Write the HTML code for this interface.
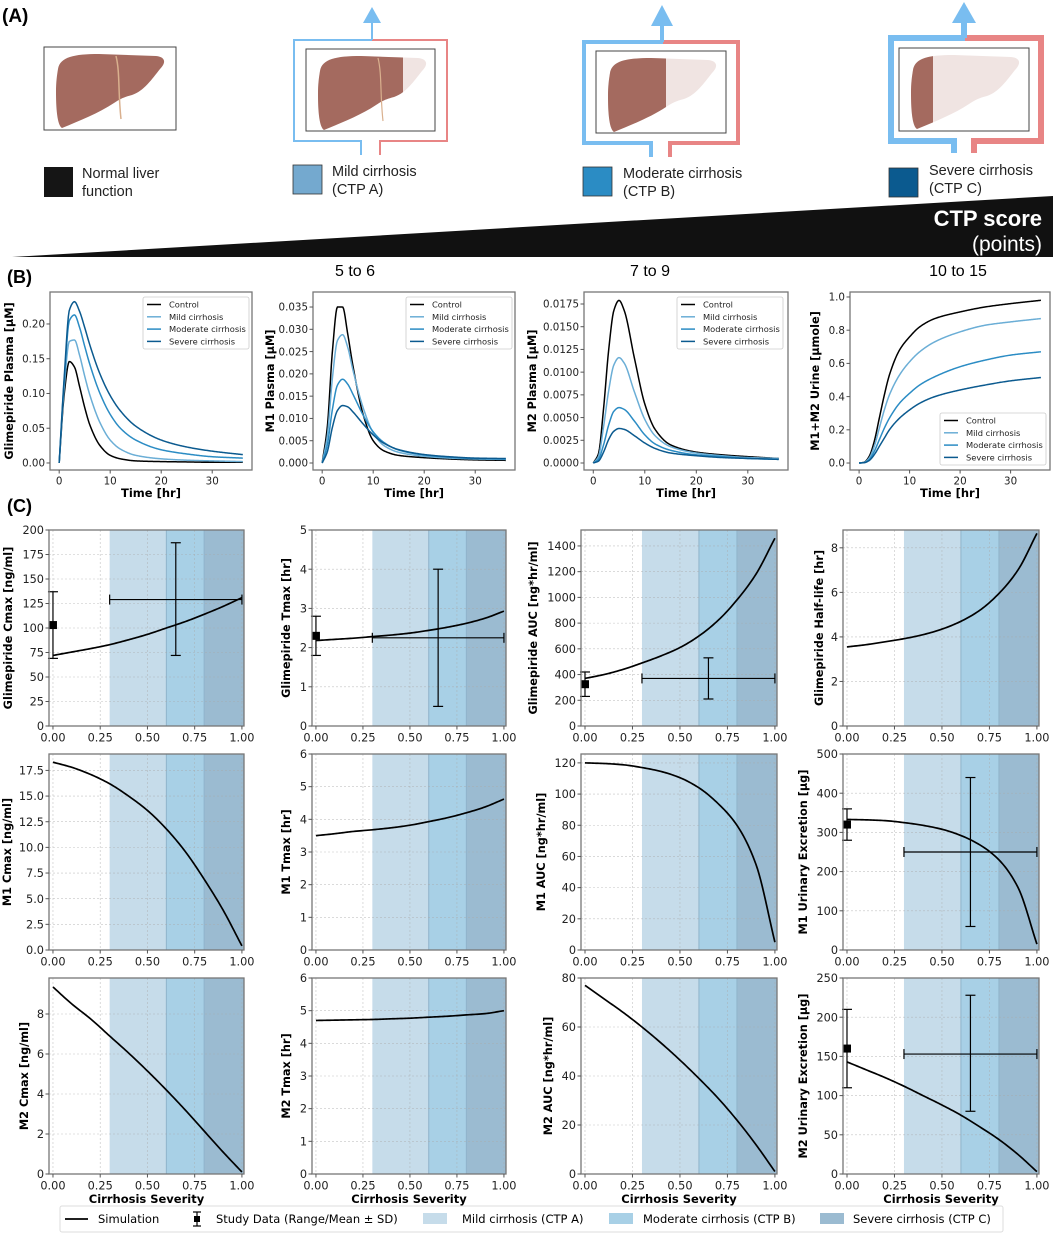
<!DOCTYPE html>
<html><head><meta charset="utf-8"><title>Glimepiride cirrhosis figure</title>
<style>
html,body{margin:0;padding:0;background:#fff;}
svg{display:block;font-family:"DejaVu Sans","Liberation Sans",sans-serif;}
.ra{font-family:"Liberation Sans",sans-serif;}
</style></head>
<body>
<svg id="fig" width="1059" height="1233" viewBox="0 0 1059 1233" xmlns="http://www.w3.org/2000/svg">
<defs>
 <path id="liverShape" d="M14,22 C16,10 30,7 55,7 L112,9 C122,10 122,16 116,22 C108,32 100,44 88,48 C80,50 76,52 70,56 C55,66 35,74 18,81 C13,78 12,60 12,45 C12,35 13,28 14,22 Z"/>
 <clipPath id="c1"><rect x="0" y="0" width="200" height="100"/></clipPath>
 <clipPath id="c2"><rect x="0" y="0" width="97" height="100"/></clipPath>
 <clipPath id="c3"><rect x="0" y="0" width="70" height="100"/></clipPath>
 <clipPath id="c4"><rect x="0" y="0" width="34" height="100"/></clipPath>
</defs>
<text x="2" y="22" font-size="19" font-weight="bold" class="ra">(A)</text>

<g transform="translate(44,47)">
 <rect x="0" y="0" width="132" height="83" fill="#fff" stroke="#444" stroke-width="1"/>
 <use href="#liverShape" fill="#a46a5f" clip-path="url(#c1)"/>
 <path d="M72,9 C76,25 74,45 77,72" stroke="#d9b08e" stroke-width="1.5" fill="none"/>
</g>
<rect x="44" y="167" width="29" height="30" fill="#151515"/>
<text x="82" y="178" font-size="14.5" class="ra" fill="#222"><tspan x="82">Normal liver</tspan><tspan x="82" dy="18">function</tspan></text>

<g fill="none" stroke-width="2">
 <path d="M361,155 V141 H294 V40 H372" stroke="#79bdf0"/>
 <path d="M380,155 V141 H447 V40 H372" stroke="#e88585"/>
 <path d="M372,40 V22" stroke="#79bdf0"/>
 <polygon points="363,23 381,23 372,7" fill="#79bdf0" stroke="none"/>
</g>
<g transform="translate(306,49)">
 <rect x="0" y="0" width="129" height="82" fill="#fff" stroke="#444" stroke-width="1"/>
 <use href="#liverShape" fill="#f0e4e2"/>
 <use href="#liverShape" fill="#a46a5f" clip-path="url(#c2)"/>
 <path d="M72,9 C76,25 74,45 77,72" stroke="#d9b08e" stroke-width="1.2" fill="none"/>
</g>
<rect x="293" y="165" width="29" height="29" fill="#74a9cf" stroke="#333" stroke-width="0.8"/>
<text x="332" y="176" font-size="14.5" class="ra" fill="#222"><tspan x="332">Mild cirrhosis</tspan><tspan x="332" dy="18">(CTP A)</tspan></text>

<g fill="none" stroke-width="4">
 <path d="M651,157 V143 H584 V42 H663" stroke="#79bdf0"/>
 <path d="M670,157 V143 H738 V42 H663" stroke="#e88585"/>
 <path d="M662,42 V24" stroke="#79bdf0"/>
 <polygon points="651,26 673,26 662,5" fill="#79bdf0" stroke="none"/>
</g>
<g transform="translate(596,51)">
 <rect x="0" y="0" width="130" height="82" fill="#fff" stroke="#444" stroke-width="1"/>
 <use href="#liverShape" fill="#f0e4e2"/>
 <use href="#liverShape" fill="#a46a5f" clip-path="url(#c3)"/>
</g>
<rect x="583" y="167" width="29" height="29" fill="#2b8cc4" stroke="#333" stroke-width="0.8"/>
<text x="623" y="178" font-size="14.5" class="ra" fill="#222"><tspan x="623">Moderate cirrhosis</tspan><tspan x="623" dy="18">(CTP B)</tspan></text>

<g fill="none" stroke-width="6">
 <path d="M954,153 V141 H891 V38 H965" stroke="#79bdf0"/>
 <path d="M974,153 V141 H1041 V38 H965" stroke="#e88585"/>
 <path d="M964,38 V20" stroke="#79bdf0"/>
 <polygon points="952,23 976,23 964,2" fill="#79bdf0" stroke="none"/>
</g>
<g transform="translate(899,48)">
 <rect x="0" y="0" width="130" height="83" fill="#fff" stroke="#444" stroke-width="1"/>
 <use href="#liverShape" fill="#f0e4e2"/>
 <use href="#liverShape" fill="#a46a5f" clip-path="url(#c4)"/>
</g>
<rect x="889" y="168" width="29" height="29" fill="#0b5a8f" stroke="#333" stroke-width="0.8"/>
<text x="929" y="175" font-size="14.5" class="ra" fill="#222"><tspan x="929">Severe cirrhosis</tspan><tspan x="929" dy="18">(CTP C)</tspan></text>

<polygon points="12,257 1053,196 1053,257" fill="#111"/>
<text x="1042" y="226" font-size="22" font-weight="bold" fill="#fff" text-anchor="end" class="ra">CTP score</text>
<text x="1042" y="251" font-size="21" fill="#fff" text-anchor="end" class="ra">(points)</text>
<text x="355" y="276" font-size="16" text-anchor="middle" class="ra">5 to 6</text>
<text x="650" y="276" font-size="16" text-anchor="middle" class="ra">7 to 9</text>
<text x="958" y="276" font-size="16" text-anchor="middle" class="ra">10 to 15</text>
<text x="7" y="283" font-size="18" font-weight="bold" class="ra">(B)</text>
<text x="7" y="512" font-size="18" font-weight="bold" class="ra">(C)</text>

<g id="charts"></g>

<g font-size="11.5">
 <rect x="60" y="1206" width="943" height="26" fill="#fff" stroke="#ddd" stroke-width="1" rx="2"/>
 <line x1="65" y1="1219" x2="88" y2="1219" stroke="#000" stroke-width="1.8"/>
 <text x="98" y="1223">Simulation</text>
 <line x1="197" y1="1212" x2="197" y2="1226" stroke="#000" stroke-width="1.2"/>
 <line x1="193" y1="1212" x2="201" y2="1212" stroke="#000" stroke-width="1.2"/>
 <line x1="193" y1="1226" x2="201" y2="1226" stroke="#000" stroke-width="1.2"/>
 <rect x="194" y="1216" width="6" height="6" fill="#000"/>
 <text x="216" y="1223">Study Data (Range/Mean ± SD)</text>
 <rect x="423" y="1213" width="24" height="11" fill="#c6dcea"/>
 <text x="462" y="1223">Mild cirrhosis (CTP A)</text>
 <rect x="609" y="1213" width="24" height="11" fill="#a8d0e6"/>
 <text x="643" y="1223">Moderate cirrhosis (CTP B)</text>
 <rect x="820" y="1213" width="24" height="11" fill="#9bbbd1"/>
 <text x="853" y="1223">Severe cirrhosis (CTP C)</text>
</g>
</svg>

<script>
const bTimes = [0,1,2,3,4,5,6,8,10,12,15,20,25,30,36];
const gliControl  = [0,0.10,0.146,0.138,0.11,0.08,0.055,0.025,0.011,0.006,0.003,0.002,0.0015,0.001,0.001];
const gliMild     = [0,0.11,0.175,0.177,0.155,0.125,0.098,0.058,0.033,0.02,0.011,0.006,0.004,0.003,0.002];
const gliModerate = [0,0.12,0.205,0.213,0.195,0.168,0.142,0.10,0.07,0.05,0.033,0.019,0.013,0.009,0.007];
const gliSevere   = [0,0.125,0.22,0.232,0.218,0.195,0.17,0.128,0.097,0.075,0.053,0.033,0.023,0.017,0.012];
const m1Control  = [0,0.008,0.025,0.035,0.035,0.029,0.022,0.011,0.005,0.0028,0.0017,0.0012,0.0009,0.0007,0.0006];
const m1Mild     = [0,0.006,0.019,0.0275,0.0288,0.026,0.021,0.0125,0.0068,0.004,0.0024,0.0015,0.0011,0.0009,0.0008];
const m1Moderate = [0,0.004,0.012,0.0175,0.0188,0.0177,0.0155,0.0108,0.007,0.0047,0.0029,0.0018,0.0013,0.001,0.0009];
const m1Severe   = [0,0.0025,0.008,0.0118,0.0129,0.0126,0.0115,0.0088,0.0063,0.0045,0.003,0.0019,0.0014,0.0011,0.001];
const m2Control  = [0,0.001,0.006,0.0125,0.0168,0.0179,0.0168,0.0115,0.0065,0.0037,0.002,0.0012,0.0009,0.0007,0.0005];
const m2Mild     = [0,0.0007,0.004,0.008,0.0108,0.0116,0.011,0.0078,0.0048,0.003,0.0018,0.0011,0.0008,0.0006,0.0005];
const m2Moderate = [0,0.0004,0.002,0.0042,0.0057,0.0061,0.0059,0.0046,0.0031,0.0021,0.0014,0.0009,0.0007,0.0005,0.0004];
const m2Severe   = [0,0.0002,0.0012,0.0026,0.0035,0.0038,0.0037,0.003,0.0022,0.0016,0.0011,0.0008,0.0006,0.0005,0.0004];
const urControl  = [0,0.005,0.04,0.13,0.27,0.41,0.53,0.68,0.76,0.82,0.87,0.91,0.94,0.96,0.98];
const urMild     = [0,0.004,0.03,0.1,0.21,0.32,0.41,0.53,0.61,0.67,0.73,0.79,0.83,0.85,0.87];
const urModerate = [0,0.003,0.02,0.07,0.14,0.21,0.27,0.36,0.42,0.47,0.52,0.58,0.62,0.65,0.67];
const urSevere   = [0,0.002,0.015,0.05,0.1,0.15,0.2,0.27,0.32,0.36,0.4,0.44,0.47,0.495,0.515];
const seriesNames = ['Control','Mild cirrhosis','Moderate cirrhosis','Severe cirrhosis'];
const bTimeTicks = [0,10,20,30];
const gliTicks = ['0.00','0.05','0.10','0.15','0.20'];
const m1Ticks = ['0.000','0.005','0.010','0.015','0.020','0.025','0.030','0.035'];
const m2Ticks = ['0.0000','0.0025','0.0050','0.0075','0.0100','0.0125','0.0150','0.0175'];
const urTicks = ['0.0','0.2','0.4','0.6','0.8','1.0'];

const severity = [0,0.1,0.2,0.3,0.4,0.5,0.6,0.7,0.8,0.9,1.0];
const gliCmax = [72,75.5,79,83,88,93.5,100,106.5,114,122,131];
const gliTmax = [2.18,2.21,2.24,2.28,2.32,2.37,2.44,2.52,2.62,2.75,2.93];
const gliAuc  = [370,400,440,490,545,610,700,820,980,1180,1460];
const gliHalf = [3.55,3.65,3.78,3.92,4.1,4.35,4.7,5.2,5.95,7.0,8.65];
const m1Cmax  = [18.3,17.8,17.1,16.2,15.0,13.6,11.8,9.6,6.9,3.9,0.4];
const m1Tmax  = [3.5,3.56,3.63,3.68,3.74,3.82,3.93,4.05,4.2,4.38,4.62];
const m1Auc   = [120,119.6,118.8,117,114.5,110.5,104,94,80,55,5];
const m1Urine = [333,332,330,325,318,308,292,268,230,160,15];
const m2Cmax  = [9.35,8.5,7.75,6.9,6.05,5.15,4.2,3.2,2.15,1.1,0.1];
const m2Tmax  = [4.7,4.71,4.72,4.73,4.75,4.77,4.8,4.83,4.87,4.91,5.0];
const m2Auc   = [77,71.5,66,60,53.5,46.5,39,31,22,12,1];
const m2Urine = [143,133,123,112,100,88,75,60,44,25,3];
const sevTicks = ['0.00','0.25','0.50','0.75','1.00'];
const gliCmaxCtl = [103,69,137];  const gliCmaxCir = [129,72,187];
const gliTmaxCtl = [2.3,1.8,2.8]; const gliTmaxCir = [2.25,0.5,4.0];
const gliAucCtl  = [325,230,420]; const gliAucCir  = [370,210,530];
const m1UrineCtl = [320,280,360]; const m1UrineCir = [250,60,440];
const m2UrineCtl = [160,110,210]; const m2UrineCir = [153,80,228];
const cirRange = [0.3,1.0,0.65];

const NS='http://www.w3.org/2000/svg';
const root=document.getElementById('charts');
function mk(tag,attrs,parent){const e=document.createElementNS(NS,tag);for(const k in attrs)e.setAttribute(k,attrs[k]);(parent||root).appendChild(e);return e;}

function monotone(xs,ys,n){
  const m=xs.length,d=[],s=[];
  for(let i=0;i<m-1;i++)d.push((ys[i+1]-ys[i])/(xs[i+1]-xs[i]));
  s[0]=d[0];s[m-1]=d[m-2];
  for(let i=1;i<m-1;i++){ if(d[i-1]*d[i]<=0) s[i]=0; else { const h0=xs[i]-xs[i-1],h1=xs[i+1]-xs[i]; const w1=2*h1+h0,w2=h1+2*h0; s[i]=(w1+w2)/(w1/d[i-1]+w2/d[i]); } }
  const out=[];
  for(let k=0;k<=n;k++){
    const x=xs[0]+(xs[m-1]-xs[0])*k/n; let i=0; while(i<m-2&&x>xs[i+1])i++;
    const h=xs[i+1]-xs[i],t=(x-xs[i])/h,t2=t*t,t3=t2*t;
    const y=(2*t3-3*t2+1)*ys[i]+(t3-2*t2+t)*h*s[i]+(-2*t3+3*t2)*ys[i+1]+(t3-t2)*h*s[i+1];
    out.push([x,y]);
  }
  return out;
}

function axes(c){
  const sx=v=>c.x0+(v-c.xmin)/(c.xmax-c.xmin)*(c.x1-c.x0);
  const sy=v=>c.y1-(v-c.ymin)/(c.ymax-c.ymin)*(c.y1-c.y0);
  return {sx,sy};
}

function drawFrameAndTicks(c,g,sx,sy,xt,xl,yt,yl){
  const frame=mk('rect',{x:c.x0,y:c.y0,width:c.x1-c.x0,height:c.y1-c.y0,fill:'none',stroke:'#777','stroke-width':1.3},g);
  
  
  const fs=c.fs;
  xt.forEach((v,i)=>{const x=sx(v);
    mk('line',{x1:x,y1:c.y1,x2:x,y2:c.y1+3.5,stroke:'#555','stroke-width':1},g);
    const t=mk('text',{x:x,y:c.y1+4+fs,'font-size':fs,'text-anchor':'middle',fill:'#222'},g);t.textContent=xl[i];
    
    
  });
  yt.forEach((v,i)=>{const y=sy(v);
    mk('line',{x1:c.x0-3.5,y1:y,x2:c.x0,y2:y,stroke:'#555','stroke-width':1},g);
    const t=mk('text',{x:c.x0-5,y:y+fs*0.36,'font-size':fs,'text-anchor':'end',fill:'#222'},g);t.textContent=yl[i];
    
    
  });
  const yx=c.x0-c.yoff, ymid=(c.y0+c.y1)/2;
  const ylab=mk('text',{x:yx,y:ymid,'font-size':11.3,'font-weight':'bold','text-anchor':'middle',transform:`rotate(-90 ${yx} ${ymid})`},g);
  ylab.textContent=c.ylabel;
  
  
  if(c.xlabel){
    const xlab=mk('text',{x:(c.x0+c.x1)/2,y:c.xly,'font-size':11.5,'font-weight':'bold','text-anchor':'middle'},g);
    xlab.textContent=c.xlabel;
    
    
  }
}

const bColors=['#000','#6baed6','#2b8cc4','#0b5a8f'];
const bPanels=[
 {x0:50,x1:252,y0:292,y1:470,ymin:-0.0101,ymax:0.246,ticks:gliTicks,series:[gliControl,gliMild,gliModerate,gliSevere],ylabel:'Glimepiride Plasma [µM]',yoff:37,leg:[143,297],name:'glimepiride-plasma-chart'},
 {x0:313,x1:515,y0:292,y1:470,ymin:-0.00157,ymax:0.03837,ticks:m1Ticks,series:[m1Control,m1Mild,m1Moderate,m1Severe],ylabel:'M1 Plasma [µM]',yoff:39,leg:[406,297],name:'m1-plasma-chart'},
 {x0:584,x1:788,y0:292,y1:470,ymin:-0.00077,ymax:0.01882,ticks:m2Ticks,series:[m2Control,m2Mild,m2Moderate,m2Severe],ylabel:'M2 Plasma [µM]',yoff:48,leg:[677,297],name:'m2-plasma-chart'},
 {x0:850,x1:1050,y0:292,y1:470,ymin:-0.042,ymax:1.03,ticks:urTicks,series:[urControl,urMild,urModerate,urSevere],ylabel:'M1+M2 Urine [µmole]',yoff:31,leg:[940,413],name:'urine-chart'}
];
bPanels.forEach(p=>{
  const c=Object.assign({xmin:-1.8,xmax:37.8,fs:10.3,xlabel:'Time [hr]',xly:497},p);
  const g=mk('g',{});
  
  
  const {sx,sy}=axes(c);
  p.series.forEach((ys,si)=>{
    const pts=monotone(bTimes,ys,240);
    const d=pts.map((q,i)=>(i?'L':'M')+sx(q[0]).toFixed(2)+','+sy(q[1]).toFixed(2)).join('');
    const path=mk('path',{d:d,fill:'none',stroke:bColors[si],'stroke-width':1.5},g);
    
    
  });
  const yt=p.ticks.map(Number);
  drawFrameAndTicks(c,g,sx,sy,bTimeTicks,bTimeTicks.map(String),yt,p.ticks);
  const lg=mk('g',{},g);
  
  
  const [lx,ly]=p.leg;
  mk('rect',{x:lx,y:ly,width:106,height:52,fill:'#fff','fill-opacity':0.85,stroke:'#ccc','stroke-width':0.8,rx:2},lg);
  seriesNames.forEach((nm,i)=>{
    const yy=ly+7.5+i*12.3;
    mk('line',{x1:lx+4,y1:yy,x2:lx+18,y2:yy,stroke:bColors[i],'stroke-width':1.5},lg);
    const t=mk('text',{x:lx+26,y:yy+3,'font-size':8.3,fill:'#222'},lg);t.textContent=nm;
    
    
  });
});

const cols=[[49,244],[312,506],[581,777],[843,1039]];
const rows=[[530,726],[754,950],[978,1174]];
const cPanels=[
 {r:0,k:0,ymax:200,yt:[0,25,50,75,100,125,150,175,200],vals:gliCmax,ylabel:'Glimepiride Cmax [ng/ml]',yoff:37,ctl:gliCmaxCtl,cir:gliCmaxCir,name:'glimepiride-cmax-chart'},
 {r:0,k:1,ymax:5,yt:[0,1,2,3,4,5],vals:gliTmax,ylabel:'Glimepiride Tmax [hr]',yoff:22,ctl:gliTmaxCtl,cir:gliTmaxCir,name:'glimepiride-tmax-chart'},
 {r:0,k:2,ymax:1524,yt:[0,200,400,600,800,1000,1200,1400],vals:gliAuc,ylabel:'Glimepiride AUC [ng*hr/ml]',yoff:44,ctl:gliAucCtl,cir:gliAucCir,name:'glimepiride-auc-chart'},
 {r:0,k:3,ymax:8.8,yt:[0,2,4,6,8],vals:gliHalf,ylabel:'Glimepiride Half-life [hr]',yoff:20,name:'glimepiride-half-life-chart'},
 {r:1,k:0,ymax:19.1,yt:[0,2.5,5,7.5,10,12.5,15,17.5],yl:['0.0','2.5','5.0','7.5','10.0','12.5','15.0','17.5'],vals:m1Cmax,ylabel:'M1 Cmax [ng/ml]',yoff:38,name:'m1-cmax-chart'},
 {r:1,k:1,ymax:6,yt:[0,1,2,3,4,5,6],vals:m1Tmax,ylabel:'M1 Tmax [hr]',yoff:22,name:'m1-tmax-chart'},
 {r:1,k:2,ymax:125.7,yt:[0,20,40,60,80,100,120],vals:m1Auc,ylabel:'M1 AUC [ng*hr/ml]',yoff:36,name:'m1-auc-chart'},
 {r:1,k:3,ymax:500,yt:[0,100,200,300,400,500],vals:m1Urine,ylabel:'M1 Urinary Excretion [µg]',yoff:36,ctl:m1UrineCtl,cir:m1UrineCir,name:'m1-urinary-excretion-chart'},
 {r:2,k:0,ymax:9.8,yt:[0,2,4,6,8],vals:m2Cmax,ylabel:'M2 Cmax [ng/ml]',yoff:21,name:'m2-cmax-chart'},
 {r:2,k:1,ymax:6,yt:[0,1,2,3,4,5,6],vals:m2Tmax,ylabel:'M2 Tmax [hr]',yoff:22,name:'m2-tmax-chart'},
 {r:2,k:2,ymax:80,yt:[0,20,40,60,80],vals:m2Auc,ylabel:'M2 AUC [ng*hr/ml]',yoff:29,name:'m2-auc-chart'},
 {r:2,k:3,ymax:250,yt:[0,50,100,150,200,250],vals:m2Urine,ylabel:'M2 Urinary Excretion [µg]',yoff:36,ctl:m2UrineCtl,cir:m2UrineCir,name:'m2-urinary-excretion-chart'}
];
const sevTickVals=sevTicks.map(Number);
cPanels.forEach(p=>{
  const c={x0:cols[p.k][0],x1:cols[p.k][1],y0:rows[p.r][0],y1:rows[p.r][1],xmin:-0.021,xmax:1.011,ymin:0,ymax:p.ymax,fs:11.3,ylabel:p.ylabel,yoff:p.yoff,xlabel:p.r===2?'Cirrhosis Severity':null,xly:1203};
  const g=mk('g',{});
  
  
  const {sx,sy}=axes(c);
  const bands=[[0.3,0.6,'#c6dcea'],[0.6,0.8,'#a8d0e6'],[0.8,1.011,'#9bbbd1']];
  bands.forEach((b,i)=>{
    const r=mk('rect',{x:sx(b[0]),y:c.y0,width:sx(b[1])-sx(b[0]),height:c.y1-c.y0,fill:b[2]},g);
    
    
    if(i>0) mk('line',{x1:sx(b[0]),y1:c.y0,x2:sx(b[0]),y2:c.y1,stroke:'#8fb3cb','stroke-width':1},g);
  });
  sevTickVals.forEach(v=>mk('line',{x1:sx(v),y1:c.y0,x2:sx(v),y2:c.y1,stroke:'#aaa','stroke-width':0.6,'stroke-dasharray':'2,2','stroke-opacity':0.7},g));
  p.yt.forEach(v=>mk('line',{x1:c.x0,y1:sy(v),x2:c.x1,y2:sy(v),stroke:'#aaa','stroke-width':0.6,'stroke-dasharray':'2,2','stroke-opacity':0.7},g));
  const pts=monotone(severity,p.vals,120);
  const d=pts.map((q,i)=>(i?'L':'M')+sx(q[0]).toFixed(2)+','+sy(q[1]).toFixed(2)).join('');
  const path=mk('path',{d:d,fill:'none',stroke:'#000','stroke-width':1.7},g);
  
  
  if(p.ctl){
    const eb=mk('g',{stroke:'#000','stroke-width':1.2},g);
    
    
    const x0=sx(0);
    mk('line',{x1:x0,y1:sy(p.ctl[1]),x2:x0,y2:sy(p.ctl[2])},eb);
    mk('line',{x1:x0-5,y1:sy(p.ctl[1]),x2:x0+5,y2:sy(p.ctl[1])},eb);
    mk('line',{x1:x0-5,y1:sy(p.ctl[2]),x2:x0+5,y2:sy(p.ctl[2])},eb);
    mk('rect',{x:x0-4,y:sy(p.ctl[0])-4,width:8,height:8,fill:'#000',stroke:'none'},eb);
    const xm=sx(cirRange[2]),xa=sx(cirRange[0]),xb=sx(cirRange[1]),ym=sy(p.cir[0]);
    mk('line',{x1:xa,y1:ym,x2:xb,y2:ym},eb);
    mk('line',{x1:xa,y1:ym-5,x2:xa,y2:ym+5},eb);
    mk('line',{x1:xb,y1:ym-5,x2:xb,y2:ym+5},eb);
    mk('line',{x1:xm,y1:sy(p.cir[1]),x2:xm,y2:sy(p.cir[2])},eb);
    mk('line',{x1:xm-5,y1:sy(p.cir[1]),x2:xm+5,y2:sy(p.cir[1])},eb);
    mk('line',{x1:xm-5,y1:sy(p.cir[2]),x2:xm+5,y2:sy(p.cir[2])},eb);
  }
  drawFrameAndTicks(c,g,sx,sy,sevTickVals,sevTicks,p.yt,p.yl||p.yt.map(String));
});
</script>
</body></html>
